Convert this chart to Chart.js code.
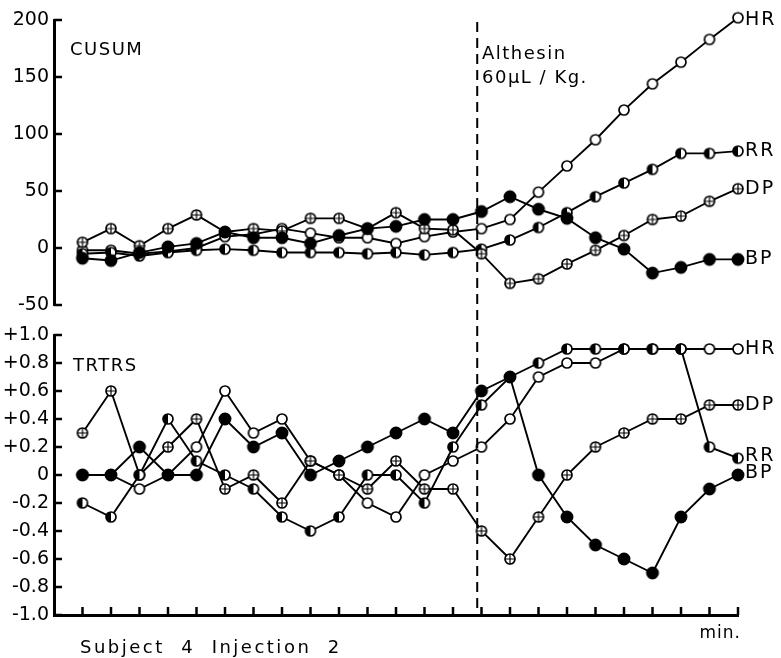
<!DOCTYPE html>
<html><head><meta charset="utf-8">
<script src="https://cdn.jsdelivr.net/npm/chart.js@4/dist/chart.umd.min.js"></script>
<style>
html,body{margin:0;padding:0;background:#fff;}
#wrap{position:relative;width:781px;height:658px;background:#fff;}
canvas{position:absolute;left:0;top:0;}
</style></head><body>
<div id="wrap"><canvas id="cTop" width="781" height="658"></canvas><canvas id="cBot" width="781" height="658"></canvas></div>
<script>
// ---- data ----
const timePoints = [0,1,2,3,4,5,6,7,8,9,10,11,12,13,14,15,16,17,18,19,20,21,22,23];
const injectionAt = 13.85;

const cusumHR = [-2, -2, -5, -3, 0, 10, 12, 17, 13, 9, 9, 4, 10, 14, 17, 25, 49, 72, 95, 121, 144, 163, 183, 202];
const cusumRR = [-5, -4, -7, -4, -2, -1, -2, -4, -4, -4, -5, -4, -6, -4, -1, 7, 18, 31, 45, 57, 69, 83, 83, 85];
const cusumDP = [5, 17, 2, 17, 29, 14, 17, 15, 26, 26, 17, 31, 17, 16, -5, -31, -27, -14, -2, 11, 25, 28, 41, 52];
const cusumBP = [-9, -11, -4, 1, 4, 14, 9, 9, 4, 11, 17, 19, 25, 25, 32, 45, 34, 26, 9, -1, -22, -17, -10, -10];

const trtrsHR = [0, 0, -0.1, 0, 0.2, 0.6, 0.3, 0.4, 0.1, 0, -0.2, -0.3, 0, 0.1, 0.2, 0.4, 0.7, 0.8, 0.8, 0.9, 0.9, 0.9, 0.9, 0.9];
const trtrsRR = [-0.2, -0.3, 0, 0.4, 0.1, 0, -0.1, -0.3, -0.4, -0.3, 0, 0, -0.2, 0.2, 0.5, 0.7, 0.8, 0.9, 0.9, 0.9, 0.9, 0.9, 0.2, 0.12];
const trtrsDP = [0.3, 0.6, 0, 0.2, 0.4, -0.1, 0, -0.2, 0.1, 0, -0.1, 0.1, -0.1, -0.1, -0.4, -0.6, -0.3, 0, 0.2, 0.3, 0.4, 0.4, 0.5, 0.5];
const trtrsBP = [0, 0, 0.2, 0, 0, 0.4, 0.2, 0.3, 0, 0.1, 0.2, 0.3, 0.4, 0.3, 0.6, 0.7, 0, -0.3, -0.5, -0.6, -0.7, -0.3, -0.1, 0];

const cusumTicks = [-50, 0, 50, 100, 150, 200];
const trtrsTicks = [-1.0, -0.8, -0.6, -0.4, -0.2, 0, 0.2, 0.4, 0.6, 0.8, 1.0];

// ---- markers ----
function marker(kind){
  const s = 16, c = s/2;
  const cv = document.createElement('canvas'); cv.width = s; cv.height = s;
  const g = cv.getContext('2d');
  const r = kind === 'filled' ? 5.6 : 5.0;
  g.lineWidth = 1.7; g.strokeStyle = '#000';
  g.beginPath(); g.arc(c, c, r, 0, Math.PI*2);
  g.fillStyle = kind === 'filled' ? '#000' : '#fff'; g.fill();
  if (kind === 'half'){
    g.beginPath(); g.arc(c, c, r, Math.PI/2, Math.PI*1.5); g.closePath();
    g.fillStyle = '#000'; g.fill();
  }
  g.beginPath(); g.arc(c, c, r, 0, Math.PI*2); g.stroke();
  if (kind === 'cross'){
    g.lineWidth = 1.2;
    g.beginPath(); g.moveTo(c - r, c); g.lineTo(c + r, c); g.moveTo(c, c - r); g.lineTo(c, c + r); g.stroke();
  }
  return cv;
}
const mOpen = marker('open'), mFilled = marker('filled'), mHalf = marker('half'), mCross = marker('cross');

const FONT = '"DejaVu Sans", sans-serif';

function series(label, vals, style, dy){
  return {
    label, labelDy: dy || 0,
    data: vals.map((v, i) => ({x: timePoints[i], y: v})),
    borderColor: '#000', borderWidth: 1.9, pointStyle: style,
    pointRadius: 6, backgroundColor: '#000', clip: false, tension: 0
  };
}

// ---- plugins ----
const endLabels = {
  id: 'endLabels',
  afterDatasetsDraw(chart){
    const ctx = chart.ctx; ctx.save();
    ctx.font = '19px ' + FONT; ctx.fillStyle = '#000';
    ctx.textBaseline = 'middle'; ctx.textAlign = 'left';
    try { ctx.letterSpacing = '2px'; } catch(e){}
    chart.data.datasets.forEach((ds, i) => {
      const meta = chart.getDatasetMeta(i);
      const pt = meta.data[meta.data.length - 1];
      ctx.fillText(ds.label, pt.x + 7, pt.y + ds.labelDy);
    });
    ctx.restore();
  }
};

const inwardTicks = {
  id: 'inwardTicks',
  afterDraw(chart, args, opts){
    const {ctx, chartArea, scales} = chart;
    ctx.save(); ctx.strokeStyle = '#000'; ctx.lineWidth = 2.5;
    opts.yValues.forEach(v => {
      const py = scales.y.getPixelForValue(v);
      ctx.beginPath(); ctx.moveTo(chartArea.left, py); ctx.lineTo(chartArea.left + 8, py); ctx.stroke();
    });
    if (opts.xTicks){
      timePoints.forEach(v => {
        const px = scales.x.getPixelForValue(v);
        ctx.beginPath(); ctx.moveTo(px, chartArea.bottom); ctx.lineTo(px, chartArea.bottom - 8); ctx.stroke();
      });
    }
    ctx.restore();
  }
};

const texts = {
  id: 'texts',
  afterDraw(chart, args, opts){
    const ctx = chart.ctx; ctx.save();
    ctx.fillStyle = '#000'; ctx.textBaseline = 'alphabetic';
    opts.items.forEach(t => {
      try { ctx.letterSpacing = t.spacing || '1px'; } catch(e){}
      ctx.font = (t.size || 17) + 'px ' + FONT;
      ctx.textAlign = t.align || 'left';
      ctx.fillText(t.text, t.x, t.y);
    });
    ctx.restore();
  }
};

const injectionLine = {
  id: 'injectionLine',
  afterDraw(chart){
    const {ctx, chartArea, scales} = chart;
    const px = scales.x.getPixelForValue(injectionAt);
    ctx.save(); ctx.strokeStyle = '#000'; ctx.lineWidth = 2; ctx.setLineDash([10, 6]);
    ctx.beginPath(); ctx.moveTo(px, 22); ctx.lineTo(px, chartArea.bottom); ctx.stroke();
    ctx.restore();
  }
};

function fmtTr(v){
  if (Math.abs(v) < 1e-9) return '0';
  return (v > 0 ? '+' : '-') + Math.abs(v).toFixed(1);
}

function yScale(min, max, step, cb){
  return {
    type: 'linear', min, max,
    ticks: {stepSize: step, color: '#000', font: {family: FONT, size: 19}, padding: 5, callback: cb},
    grid: {display: false, drawTicks: false},
    border: {display: true, color: '#000', width: 3},
    afterFit(s){ s.width = 54; }
  };
}

Chart.defaults.animation = false;

new Chart(document.getElementById('cTop'), {
  type: 'line',
  data: {datasets: [
    series('BP', cusumBP, mFilled, 0),
    series('DP', cusumDP, mCross, 0),
    series('RR', cusumRR, mHalf, 0),
    series('HR', cusumHR, mOpen, 2)
  ]},
  options: {
    responsive: false, animation: false,
    layout: {padding: {left: 0, right: 43, top: 20, bottom: 353}},
    scales: {
      x: {type: 'linear', min: -1, max: 23, display: false},
      y: yScale(-50, 200, 50, v => String(v))
    },
    plugins: {
      legend: {display: false}, tooltip: {enabled: false},
      inwardTicks: {yValues: cusumTicks, xTicks: false},
      texts: {items: [
        {text: 'CUSUM', x: 70, y: 55, size: 18, spacing: '1.5px'},
        {text: 'Althesin', x: 482, y: 59, size: 18, spacing: '1.5px'},
        {text: '60μL / Kg.', x: 482, y: 83, size: 18, spacing: '1.5px'}
      ]}
    }
  },
  plugins: [endLabels, inwardTicks, texts]
});

new Chart(document.getElementById('cBot'), {
  type: 'line',
  data: {datasets: [
    series('BP', trtrsBP, mFilled, -2),
    series('RR', trtrsRR, mHalf, -2),
    series('DP', trtrsDP, mCross, 0),
    series('HR', trtrsHR, mOpen, 0)
  ]},
  options: {
    responsive: false, animation: false,
    layout: {padding: {left: 0, right: 43, top: 335, bottom: 0}},
    scales: {
      x: {type: 'linear', min: -1, max: 23, display: true,
          ticks: {display: false}, grid: {display: false, drawTicks: false},
          border: {display: true, color: '#000', width: 3},
          afterFit(s){ s.height = 43; }},
      y: yScale(-1, 1, 0.2, v => fmtTr(v))
    },
    plugins: {
      legend: {display: false}, tooltip: {enabled: false},
      inwardTicks: {yValues: trtrsTicks, xTicks: true},
      texts: {items: [
        {text: 'TRTRS', x: 73, y: 371, size: 18, spacing: '1.5px'},
        {text: 'Subject  4  Injection  2', x: 80, y: 653, size: 18, spacing: '2.5px'},
        {text: 'min.', x: 741, y: 638, size: 17, align: 'right', spacing: '1px'}
      ]}
    }
  },
  plugins: [endLabels, inwardTicks, texts, injectionLine]
});
</script>
</body></html>
